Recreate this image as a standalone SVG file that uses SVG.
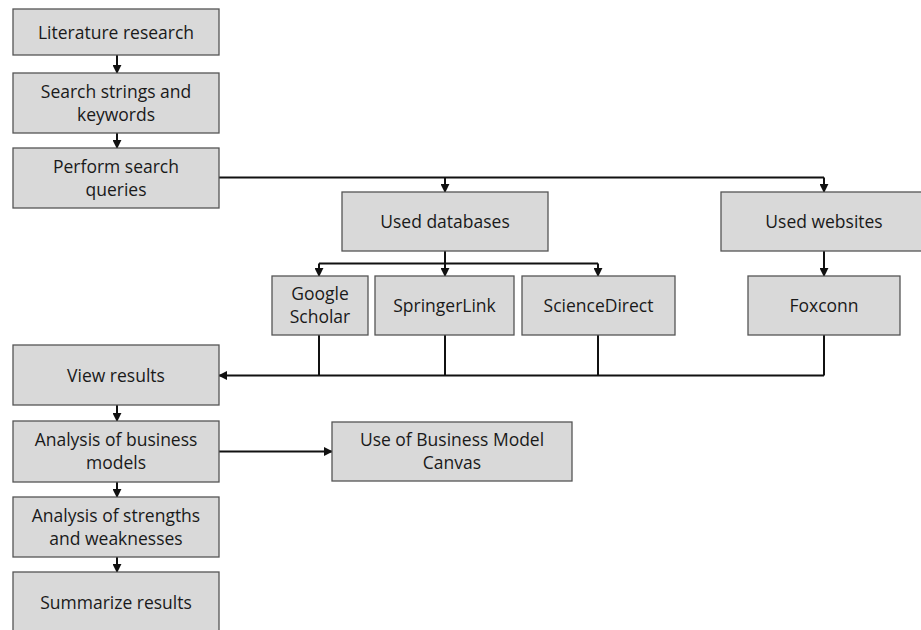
<svg xmlns="http://www.w3.org/2000/svg" width="921" height="630" viewBox="0 0 921 630">
  <defs>
    <marker id="arrow" viewBox="0 0 10 10" refX="9" refY="5" markerWidth="9" markerHeight="9" markerUnits="userSpaceOnUse" orient="auto">
      <path d="M0,0 L10,5 L0,10 z" fill="#111"/>
    </marker>
    <style>
      .box { fill: #d9d9d9; stroke: #555; stroke-width: 1.3; }
      .lbl { font-family: "Open Sans", "Liberation Sans", sans-serif; font-size: 17.5px; fill: #1a1a1a; text-anchor: middle; }
      .wire { fill: none; stroke: #111; stroke-width: 2; }
      .arr { fill: none; stroke: #111; stroke-width: 2; marker-end: url(#arrow); }
    </style>
  </defs>
  <rect width="921" height="630" fill="#fff"/>

  <g id="connectors">
    <path class="arr" d="M117,55 V73"/>
    <path class="arr" d="M117,133 V148"/>
    <path class="wire" d="M219,177.5 H824"/>
    <path class="arr" d="M445,177.5 V192"/>
    <path class="arr" d="M824,177.5 V192"/>
    <path class="wire" d="M445,251 V263.5"/>
    <path class="wire" d="M319,263.5 H598"/>
    <path class="arr" d="M319,263.5 V276"/>
    <path class="arr" d="M445,263.5 V276"/>
    <path class="arr" d="M598,263.5 V276"/>
    <path class="arr" d="M824,251 V276"/>
    <path class="wire" d="M319,335 V375.5"/>
    <path class="wire" d="M445,335 V375.5"/>
    <path class="wire" d="M598,335 V375.5"/>
    <path class="wire" d="M824,335 V375.5"/>
    <path class="arr" d="M824,375.5 H219"/>
    <path class="arr" d="M117,405 V421"/>
    <path class="arr" d="M219,451.5 H332"/>
    <path class="arr" d="M117,482 V497"/>
    <path class="arr" d="M117,557 V572"/>
  </g>

  <g id="literature-research">
    <rect class="box" x="13" y="9" width="206" height="46"/>
    <text class="lbl" x="116" y="38.5">Literature research</text>
  </g>
  <g id="search-strings">
    <rect class="box" x="13" y="73" width="206" height="60"/>
    <text class="lbl" x="116" y="98">Search strings and</text>
    <text class="lbl" x="116" y="121">keywords</text>
  </g>
  <g id="perform-search">
    <rect class="box" x="13" y="148" width="206" height="60"/>
    <text class="lbl" x="116" y="173">Perform search</text>
    <text class="lbl" x="116" y="196">queries</text>
  </g>
  <g id="used-databases">
    <rect class="box" x="342" y="192" width="206" height="59"/>
    <text class="lbl" x="445" y="227.5">Used databases</text>
  </g>
  <g id="used-websites">
    <rect class="box" x="721" y="192" width="206" height="59"/>
    <text class="lbl" x="824" y="227.5">Used websites</text>
  </g>
  <g id="google-scholar">
    <rect class="box" x="272" y="276" width="96" height="59"/>
    <text class="lbl" x="320" y="300">Google</text>
    <text class="lbl" x="320" y="323">Scholar</text>
  </g>
  <g id="springerlink">
    <rect class="box" x="375" y="276" width="139" height="59"/>
    <text class="lbl" x="444.5" y="311.5">SpringerLink</text>
  </g>
  <g id="sciencedirect">
    <rect class="box" x="522" y="276" width="153" height="59"/>
    <text class="lbl" x="598.5" y="311.5">ScienceDirect</text>
  </g>
  <g id="foxconn">
    <rect class="box" x="748" y="276" width="152" height="59"/>
    <text class="lbl" x="824" y="311.5">Foxconn</text>
  </g>
  <g id="view-results">
    <rect class="box" x="13" y="345" width="206" height="60"/>
    <text class="lbl" x="116" y="381.5">View results</text>
  </g>
  <g id="analysis-business-models">
    <rect class="box" x="13" y="421" width="206" height="61"/>
    <text class="lbl" x="116" y="446">Analysis of business</text>
    <text class="lbl" x="116" y="469">models</text>
  </g>
  <g id="business-model-canvas">
    <rect class="box" x="332" y="422" width="240" height="59"/>
    <text class="lbl" x="452" y="446">Use of Business Model</text>
    <text class="lbl" x="452" y="469">Canvas</text>
  </g>
  <g id="analysis-strengths">
    <rect class="box" x="13" y="497" width="206" height="60"/>
    <text class="lbl" x="116" y="522">Analysis of strengths</text>
    <text class="lbl" x="116" y="545">and weaknesses</text>
  </g>
  <g id="summarize-results">
    <rect class="box" x="13" y="572" width="206" height="62"/>
    <text class="lbl" x="116" y="609">Summarize results</text>
  </g>
</svg>
